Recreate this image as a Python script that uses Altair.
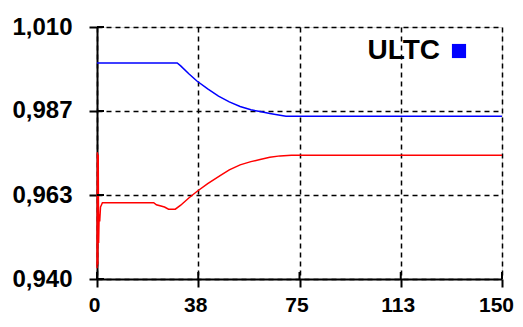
import altair as alt
import pandas as pd

# ---- data ----
series_names = ["ULTC", "Other"]
series_colors = ["#0000ff", "#ff0000"]

blue_t = [0, 29.7, 31, 34, 37, 41, 45, 49, 53, 57, 60.4, 64, 67.8, 70, 150]
blue_v = [1.000, 1.000, 0.9992, 0.9970, 0.9950, 0.9928, 0.9908, 0.9892, 0.9879,
          0.9870, 0.9865, 0.9860, 0.9855, 0.9852, 0.9852]

red_t = [0, 0.15, 0.3, 0.45, 0.6, 0.8, 1.0, 1.3, 1.6, 2.0, 21, 22, 25, 26.5, 29,
         31, 34, 37, 41, 45.6, 49, 53, 57, 60.4, 64, 67.8, 72, 150]
red_v = [0.943, 0.9752, 0.9440, 0.9745, 0.9500, 0.9580, 0.9560, 0.9600, 0.9605,
         0.9612, 0.9612, 0.9606, 0.9600, 0.9594, 0.9594, 0.9605, 0.9625, 0.9643,
         0.9665, 0.9687, 0.9703, 0.9717, 0.9726, 0.9732, 0.9738, 0.9742, 0.9744,
         0.9744]

x_ticks = [0, 37.5, 75, 112.5, 150]
y_ticks = [0.940, 0.963333, 0.986667, 1.010]

df = pd.concat([
    pd.DataFrame({"t": blue_t, "v": blue_v, "series": series_names[0], "o": range(len(blue_t))}),
    pd.DataFrame({"t": red_t, "v": red_v, "series": series_names[1], "o": range(len(red_t))}),
])

FONT = "Liberation Sans"
xscale = alt.Scale(domain=[0, 150], nice=False, zero=False)
yscale = alt.Scale(domain=[0.940, 1.010], nice=False, zero=False)
cscale = alt.Scale(domain=series_names, range=series_colors)

lines = alt.Chart(df).mark_line(strokeWidth=1.5).encode(
    x=alt.X("t:Q", scale=xscale, axis=alt.Axis(
        values=x_ticks, format=".0f", title=None, grid=True,
        gridDash=[5, 4], gridColor="black", gridOpacity=1, gridWidth=1.5,
        domainColor="black", domainWidth=2, tickColor="black", tickWidth=2,
        tickSize=8, labelPadding=7,
        labelOffset={"condition": {"test": "datum.value >= 150", "value": -6}, "value": -3},
        labelFont=FONT, labelFontSize=21, labelFontWeight="bold",
        labelColor="black", labelFlush=False)),
    y=alt.Y("v:Q", scale=yscale, axis=alt.Axis(
        values=y_ticks, labelExpr="replace(format(datum.value, '.3f'), '.', ',')",
        title=None, grid=True, gridDash=[5, 4], gridColor="black", gridOpacity=1,
        gridWidth=1.5, domainColor="black", domainWidth=2, tickColor="black",
        tickWidth=2, tickSize=8, labelPadding=17, labelFont=FONT,
        labelFontSize=24, labelFontWeight="bold", labelColor="black",
        labelFlush=False)),
    color=alt.Color("series:N", scale=cscale, legend=None),
    detail="series:N",
    order="o:Q",
)

ytick_df = pd.DataFrame({"v": y_ticks})
xtick_df = pd.DataFrame({"t": x_ticks})
inner_y = alt.Chart(ytick_df).mark_rule(color="black", strokeWidth=2).encode(
    y=alt.Y("v:Q", scale=yscale), x=alt.value(0), x2=alt.value(7))
inner_x = alt.Chart(xtick_df).mark_rule(color="black", strokeWidth=2).encode(
    x=alt.X("t:Q", scale=xscale), y=alt.value(252), y2=alt.value(245))

leg_df = pd.DataFrame({"series": [series_names[0]]})
leg_text = alt.Chart(leg_df).mark_text(
    align="right", baseline="middle", font=FONT, fontSize=28, fontWeight="bold",
    color="black").encode(text="series:N", x=alt.value(343), y=alt.value(24))
leg_sq = alt.Chart(leg_df).mark_square(size=200, opacity=1, filled=True).encode(
    color=alt.Color("series:N", scale=cscale, legend=None),
    x=alt.value(362), y=alt.value(24))

chart = alt.layer(lines, inner_y, inner_x, leg_text, leg_sq).properties(
    width=405, height=252,
    autosize=alt.AutoSizeParams(type="none"),
    padding={"left": 89, "top": 19, "right": 13, "bottom": 39},
).configure_view(stroke=None).configure(background="white")

chart.save("out.html", embed_options={"renderer": "svg", "actions": False})
